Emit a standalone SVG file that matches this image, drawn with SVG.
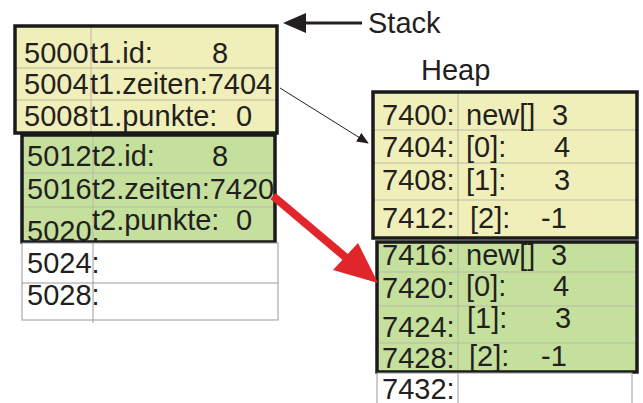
<svg xmlns="http://www.w3.org/2000/svg" width="643" height="403" viewBox="0 0 643 403">
  <style>
    text { font-family: "Liberation Sans", Arial, sans-serif; font-size: 29px; fill: #231f20; }
    .yel { fill: #f1efb9; }
    .grn { fill: #c5e09c; }
    .wht { fill: #ffffff; }
    .frame { fill: none; stroke: #1a1a1a; stroke-width: 3.5; }
    .grid { stroke: #b9b9a6; stroke-width: 1; fill: none; }
    .wgrid { stroke: #9a9a9a; stroke-width: 1; fill: none; }
  </style>
  <defs>
    <marker id="thinHead" markerWidth="12" markerHeight="10" refX="11" refY="5" orient="auto" markerUnits="userSpaceOnUse">
      <path d="M0,0 L12,5 L0,10 z" fill="#231f20"/>
    </marker>
  </defs>

  <!-- Stack: object t1 -->
  <g id="stack-t1">
    <rect class="yel" x="15" y="26" width="262" height="107"/>
    <line class="grid" x1="15" y1="68" x2="277" y2="68"/>
    <line class="grid" x1="15" y1="100" x2="277" y2="100"/>
    <line class="grid" x1="91" y1="26" x2="91" y2="133"/>
    <rect class="frame" x="15" y="26" width="262" height="107"/>
    <text x="24" y="63">5000</text><text x="90" y="63">t1.id:</text><text x="212" y="63">8</text>
    <text x="24" y="94">5004</text><text x="90" y="94">t1.zeiten:7404</text>
    <text x="24" y="126">5008</text><text x="90" y="126">t1.punkte:</text><text x="236" y="126">0</text>
  </g>

  <!-- Stack: object t2 -->
  <g id="stack-t2">
    <rect class="grn" x="22" y="135" width="253" height="107"/>
    <line class="grid" x1="22" y1="173" x2="275" y2="173"/>
    <line class="grid" x1="22" y1="207" x2="275" y2="207"/>
    <line class="grid" x1="93" y1="135" x2="93" y2="242"/>
    <rect class="frame" x="22" y="135" width="253" height="107"/>
    <text x="27" y="166">5012</text><text x="92" y="166">t2.id:</text><text x="212" y="166">8</text>
    <text x="27" y="199">5016</text><text x="92" y="199">t2.zeiten:7420</text>
    <text x="27" y="241">5020:</text><text x="92" y="230">t2.punkte:</text><text x="236" y="230">0</text>
  </g>

  <!-- Stack: free cells -->
  <g id="stack-free">
    <rect class="wht" x="22" y="243" width="256" height="77" stroke="#9a9a9a" stroke-width="1"/>
    <line class="wgrid" x1="22" y1="283" x2="278" y2="283"/>
    <line class="wgrid" x1="93" y1="243" x2="93" y2="323"/>
    <text x="27" y="273">5024:</text>
    <text x="27" y="305">5028:</text>
  </g>

  <!-- Heap: array of t1 -->
  <g id="heap-array1">
    <rect class="yel" x="373" y="92" width="264" height="146"/>
    <line class="grid" x1="373" y1="130" x2="637" y2="130"/>
    <line class="grid" x1="373" y1="163" x2="637" y2="163"/>
    <line class="grid" x1="373" y1="200" x2="637" y2="200"/>
    <line class="grid" x1="458" y1="92" x2="458" y2="238"/>
    <rect class="frame" x="373" y="92" width="264" height="146"/>
    <text x="382" y="125">7400:</text><text x="466" y="125">new[]</text><text x="552" y="125">3</text>
    <text x="382" y="157">7404:</text><text x="466" y="157">[0]:</text><text x="554" y="157">4</text>
    <text x="382" y="190">7408:</text><text x="466" y="190">[1]:</text><text x="554" y="190">3</text>
    <text x="382" y="228">7412:</text><text x="470" y="228">[2]:</text><text x="541" y="228">-1</text>
  </g>

  <!-- Heap: array of t2 -->
  <g id="heap-array2">
    <rect class="grn" x="377" y="242" width="260" height="130"/>
    <line class="grid" x1="377" y1="272" x2="637" y2="272"/>
    <line class="grid" x1="377" y1="306" x2="637" y2="306"/>
    <line class="grid" x1="377" y1="343" x2="637" y2="343"/>
    <line class="grid" x1="458" y1="242" x2="458" y2="372"/>
    <rect class="frame" x="377" y="242" width="260" height="130"/>
    <text x="382" y="265">7416:</text><text x="466" y="265">new[]</text><text x="551" y="265">3</text>
    <text x="382" y="298">7420:</text><text x="466" y="296">[0]:</text><text x="553" y="296">4</text>
    <text x="382" y="337">7424:</text><text x="467" y="328">[1]:</text><text x="555" y="328">3</text>
    <text x="382" y="368">7428:</text><text x="469" y="366">[2]:</text><text x="541" y="366">-1</text>
  </g>

  <!-- Heap: free cell -->
  <g id="heap-free">
    <rect class="wht" x="377" y="373" width="255" height="40" stroke="#9a9a9a" stroke-width="1"/>
    <line class="wgrid" x1="458" y1="373" x2="458" y2="403"/>
    <text x="382" y="399">7432:</text>
  </g>

  <!-- Labels -->
  <g id="label-stack">
    <text x="368" y="33">Stack</text>
  </g>
  <g id="label-heap">
    <text x="421" y="80">Heap</text>
  </g>

  <!-- Connectors -->
  <g id="connectors">
    <!-- pointer to the Stack -->
    <line x1="362" y1="23" x2="300" y2="23" stroke="#231f20" stroke-width="3"/>
    <path d="M283,23 L306,13 L306,33 z" fill="#231f20"/>
    <!-- t1.zeiten reference -->
    <line x1="280" y1="88" x2="368" y2="143" stroke="#231f20" stroke-width="1" marker-end="url(#thinHead)"/>
    <!-- t2.zeiten reference -->
    <line x1="273" y1="196" x2="350" y2="261" stroke="#e0262a" stroke-width="8"/>
    <path d="M378,283 L333,270 L358,243 z" fill="#e0262a"/>
  </g>
</svg>
